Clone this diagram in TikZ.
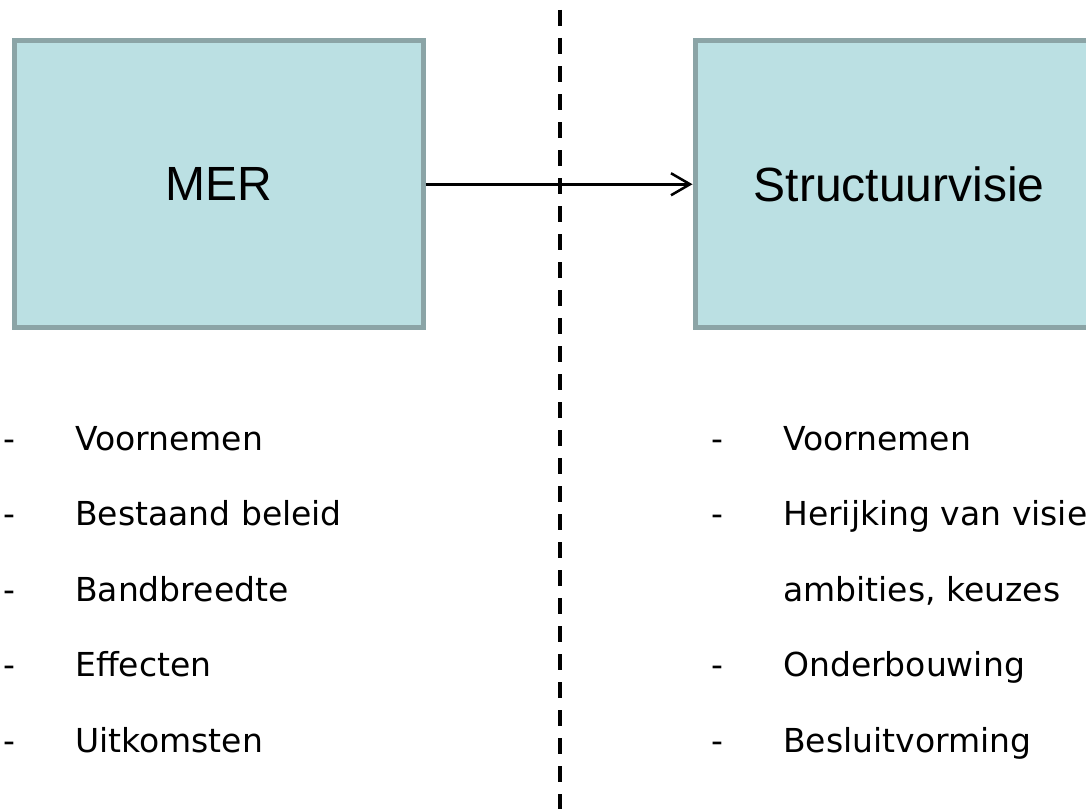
\documentclass[tikz,border=0pt]{standalone}
\usepackage{fontspec}
\setmainfont{DejaVu Sans}
\newfontfamily\boxfont{Liberation Sans}
\usetikzlibrary{arrows.meta}
\definecolor{boxfill}{RGB}{187,224,227}
\definecolor{boxline}{RGB}{139,164,166}
\tikzset{
  stage/.style={draw=boxline, fill=boxfill, line width=5pt,
    minimum width=408.5pt, minimum height=286.5pt,
    font=\boxfont\fontsize{48}{58}\selectfont},
  item/.style={anchor=base west, inner sep=0pt, font=\fontsize{33}{40}\selectfont},
}
\newcommand{\dashitem}[1]{\makebox[72pt][l]{-}#1}

\begin{document}
\begin{tikzpicture}[x=1pt, y=-1pt, >={Straight Barb[length=19pt,width=22pt]}]
      \useasboundingbox (0,0) rectangle (1086,808);
      \clip (0,0) rectangle (1086,808);

      \node [stage] (mer) at (218.75,184.25) {MER};
      \node [stage] (sv)  at (899.25,184.25) {Structuurvisie};
      \draw [->,line width=2.5pt] (mer) to (sv);

      \draw [line width=4pt, dash pattern=on 16pt off 12pt] (559.5,10) -- (559.5,830);

      \node [item] (m1) at (3,450)   {\dashitem{Voornemen}};
      \node [item] (m2) at (3,525.5) {\dashitem{Bestaand beleid}};
      \node [item] (m3) at (3,601)   {\dashitem{Bandbreedte}};
      \node [item] (m4) at (3,676.5) {\dashitem{Effecten}};
      \node [item] (m5) at (3,752)   {\dashitem{Uitkomsten}};

      \node [item] (s1)  at (711,450)   {\dashitem{Voornemen}};
      \node [item] (s2)  at (711,525.5) {\dashitem{Herijking van visie}};
      \node [item] (s2b) at (783,601)   {ambities, keuzes};
      \node [item] (s3)  at (711,676.5) {\dashitem{Onderbouwing}};
      \node [item] (s4)  at (711,752)   {\dashitem{Besluitvorming}};
    \end{tikzpicture}
\end{document}
